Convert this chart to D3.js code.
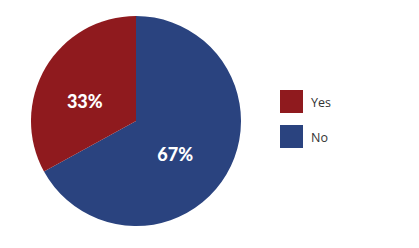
<!DOCTYPE html>
<html>
<head>
<meta charset="utf-8">
<script src="https://cdn.jsdelivr.net/npm/d3@7"></script>
<style>
  html, body { margin: 0; padding: 0; background: #fff; }
  svg { display: block; }
</style>
</head>
<body>
<div id="chart"></div>
<script>
  // data
  const categories = ['Yes', 'No'];
  const values = [33, 67];
  const colors = ['#8f1a1e', '#2a437f'];

  const W = 419, H = 248;
  const cx = 136, cy = 121, R = 105;

  const svg = d3.select('#chart').append('svg')
    .attr('width', W).attr('height', H);

  const color = d3.scaleOrdinal().domain(categories).range(colors);

  // No slice runs clockwise from 12 o'clock, Yes fills the rest
  const slices = categories.map((c, i) => ({ cat: c, value: values[i] }));
  const pie = d3.pie().sort(null).value(d => d.value);
  const arcs = pie(slices.slice().reverse());

  const arc = d3.arc().innerRadius(0).outerRadius(R);
  const labelArc = d3.arc().innerRadius(R * 0.5).outerRadius(R * 0.5);

  const g = svg.append('g').attr('transform', `translate(${cx},${cy})`);

  g.selectAll('path')
    .data(arcs)
    .join('path')
    .attr('d', arc)
    .attr('fill', d => color(d.data.cat));

  g.selectAll('text')
    .data(arcs)
    .join('text')
    .attr('transform', d => {
      const [x, y] = labelArc.centroid(d);
      return `translate(${x - 6},${y + 7})`;
    })
    .attr('text-anchor', 'middle')
    .attr('dy', '0.35em')
    .attr('fill', '#fff')
    .attr('font-family', 'Lato, "Open Sans", sans-serif')
    .attr('font-weight', 900)
    .attr('font-size', '18px')
    .text(d => d.data.value + '%');

  /* ---------- Legend ---------- */
  const legend = svg.append('g').attr('transform', 'translate(280,90)');
  const item = legend.selectAll('g')
    .data(categories)
    .join('g')
    .attr('transform', (d, i) => `translate(0,${i * 35})`);

  item.append('rect')
    .attr('width', 23).attr('height', 23)
    .attr('fill', d => color(d));

  item.append('text')
    .attr('x', 31).attr('y', 17)
    .attr('fill', '#333')
    .attr('font-family', '"Open Sans", sans-serif')
    .attr('font-size', '12.5px')
    .text(d => d);
</script>
</body>
</html>
